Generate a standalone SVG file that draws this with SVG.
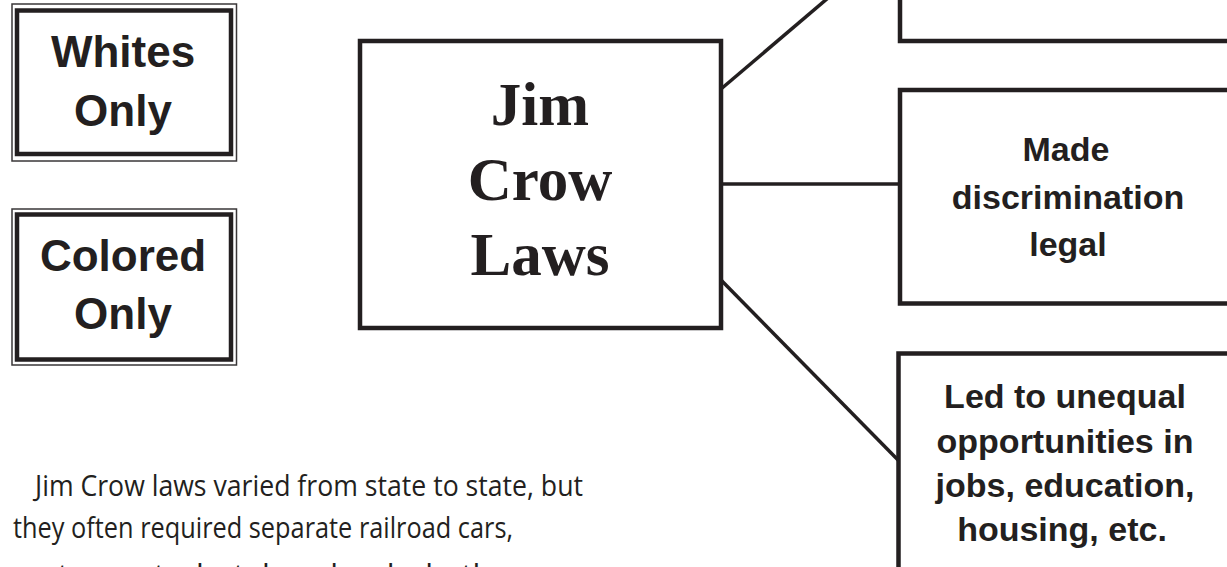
<svg xmlns="http://www.w3.org/2000/svg" width="1227" height="567" viewBox="0 0 1227 567">
<style>
.bg{fill:#ffffff}
.thin{fill:none;stroke:#3a3738;stroke-width:1.5}
.thick{fill:none;stroke:#231f20;stroke-width:4.5}
.box{fill:#ffffff;stroke:#231f20;stroke-width:4.5}
.sign{font-family:"Liberation Sans",Arial,sans-serif;font-weight:bold;font-size:44px;fill:#231f20;text-anchor:middle}
.main{font-family:"Liberation Serif","Times New Roman",serif;font-weight:bold;font-size:61px;fill:#231f20;text-anchor:middle}
.side{font-family:"Liberation Sans",Arial,sans-serif;font-weight:bold;font-size:34px;fill:#231f20;text-anchor:middle}
.para{font-family:"Open Sans","Liberation Sans",sans-serif;font-size:30px;fill:#231f20}
.conn{fill:none;stroke:#231f20;stroke-width:3.5}
</style>
<rect class="bg" x="0" y="0" width="1227" height="567"/>
<g id="connectors">
<line class="conn" x1="721" y1="89" x2="828" y2="-2"/>
<line class="conn" x1="721" y1="184" x2="900" y2="184"/>
<line class="conn" x1="721" y1="280" x2="899" y2="461"/>
</g>
<g id="sign-whites">
<rect class="thin" x="12" y="4" width="224.5" height="157"/>
<rect class="thick" x="17" y="10.5" width="214" height="143.5"/>
<text class="sign" x="123" y="67">Whites</text>
<text class="sign" x="123" y="126">Only</text>
</g>
<g id="sign-colored">
<rect class="thin" x="12" y="209" width="224.5" height="156"/>
<rect class="thick" x="17" y="214.5" width="214" height="145"/>
<text class="sign" x="123" y="271">Colored</text>
<text class="sign" x="123" y="329">Only</text>
</g>
<g id="jim-crow-laws">
<rect class="box" x="360" y="41" width="361" height="287"/>
<text class="main" x="540" y="125">Jim</text>
<text class="main" x="540" y="200">Crow</text>
<text class="main" x="540" y="275">Laws</text>
</g>
<g id="box-top">
<rect class="box" x="900" y="-20" width="350" height="61"/>
</g>
<g id="box-middle">
<rect class="box" x="900" y="90" width="350" height="213.5"/>
<text class="side" x="1066" y="161">Made</text>
<text class="side" x="1068" y="209">discrimination</text>
<text class="side" x="1068" y="256">legal</text>
</g>
<g id="box-bottom">
<rect class="box" x="898.5" y="353.5" width="350" height="240"/>
<text class="side" x="1065" y="408">Led to unequal</text>
<text class="side" x="1065" y="453">opportunities in</text>
<text class="side" x="1065" y="497">jobs, education,</text>
<text class="side" x="1062" y="541">housing, etc.</text>
</g>
<g id="paragraph">
<text class="para" x="35" y="496" textLength="548" lengthAdjust="spacingAndGlyphs">Jim Crow laws varied from state to state, but</text>
<text class="para" x="13" y="538" textLength="500" lengthAdjust="spacingAndGlyphs">they often required separate railroad cars,</text>
<text class="para" x="13" y="585" textLength="580" lengthAdjust="spacingAndGlyphs">restaurants, hotels, schools, bathrooms,</text>
</g>
</svg>
